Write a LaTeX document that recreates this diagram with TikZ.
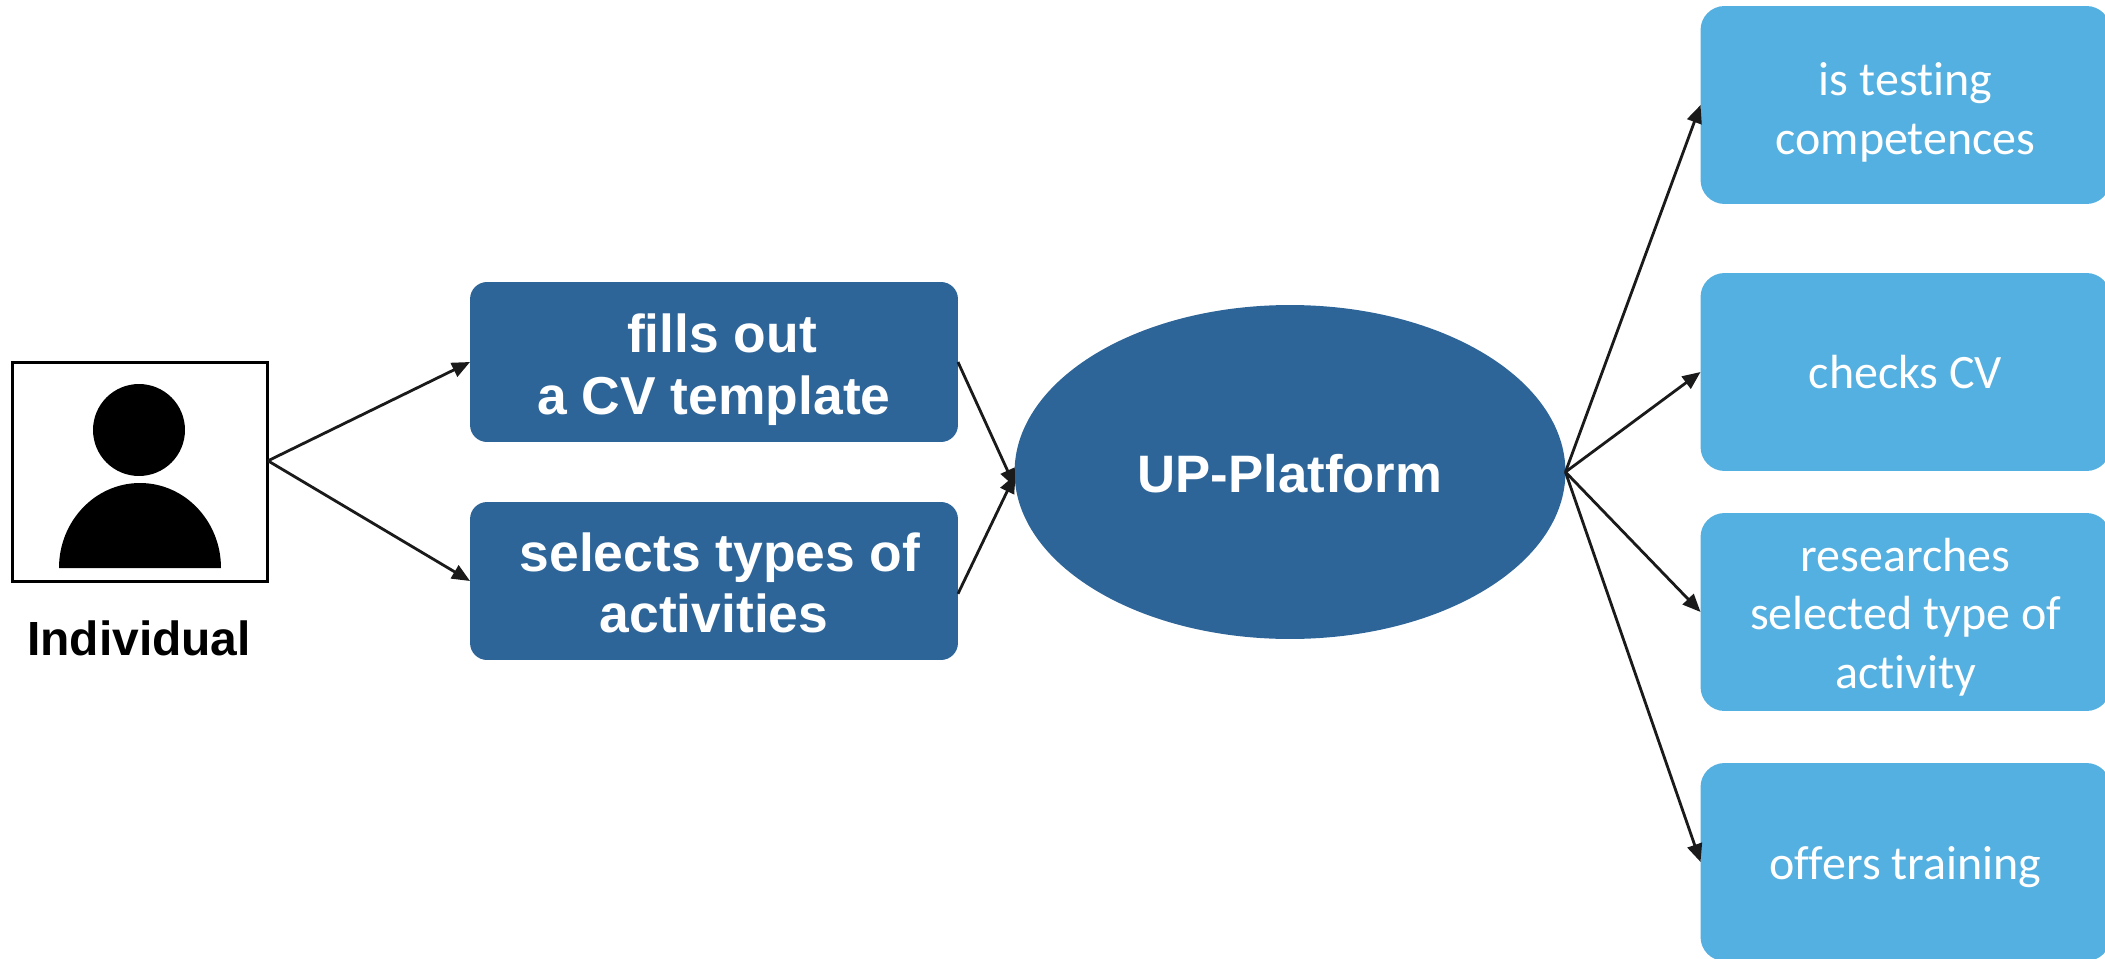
\documentclass[tikz,border=0pt]{standalone}
\usepackage{fontspec}
\setmainfont{Liberation Sans}
\newfontfamily\carlitofont[Ligatures={NoCommon}]{Carlito}
\usetikzlibrary{shapes.geometric,arrows.meta}
\definecolor{darkblue}{HTML}{2E6599}
\definecolor{lightblue}{HTML}{54B0E0}
\definecolor{arrowgray}{HTML}{1A1A1A}
\tikzset{
    stepbox/.style={rectangle, rounded corners=0.34cm, fill=darkblue, text=white, align=center,
        minimum width=9.76cm, inner sep=0pt, outer sep=0pt,
        font=\fontsize{30.4}{35}\selectfont\bfseries},
    resultbox/.style={rectangle, rounded corners=0.48cm, fill=lightblue, text=white, align=center,
        minimum width=8.2cm, minimum height=3.96cm, inner sep=0pt, outer sep=0pt,
        font=\fontsize{27.3}{33.5}\selectfont\carlitofont},
    link/.style={-{Triangle[length=0.36cm, width=0.3cm]}, line width=1.6pt, draw=arrowgray}
}
\begin{document}
\begin{tikzpicture}[x=0.02cm, y=0.02cm]
    \useasboundingbox (0, 0) rectangle (2105, 958);

    % individual
    \node[draw, line width=1.7pt, minimum width=5.12cm, minimum height=4.4cm, inner sep=0pt, outer sep=0pt] (person) at (140, 486) {};
    \node[circle, fill=black, minimum size=1.84cm, inner sep=0pt] (head) at (139, 528) {};
    \fill (59, 390) arc[start angle=180, end angle=0, x radius=81, y radius=85] -- cycle;
    \node[font=\fontsize{27.3}{32}\selectfont\bfseries] (individual) at (139, 320) {Individual};

    % steps
    \node[stepbox, minimum height=3.2cm] (cv) at (714, 596) {\rule{0pt}{1.09cm}\hspace*{0.32cm}fills out\\a CV template};
    \node[stepbox, minimum height=3.16cm] (types) at (714, 377) {\rule{0pt}{0.85cm}\hspace*{0.24cm}selects types of\\activities};

    % platform
    \node[ellipse, fill=darkblue, text=white, minimum width=11.02cm, minimum height=6.68cm, inner sep=0pt, outer sep=0pt,
        font=\fontsize{30}{36}\selectfont\bfseries] (platform) at (1290, 486) {\rule{0pt}{0.84cm}UP-Platform};
    \coordinate (inCv) at (1015, 471);
    \coordinate (inTypes) at (1015, 483);

    % results
    \node[resultbox] (testing) at (1905.5, 853) {\rule{0pt}{0.95cm}is testing\\competences};
    \node[resultbox] (checks) at (1905.5, 586) {checks CV};
    \node[resultbox] (research) at (1905.5, 346) {\rule{0pt}{0.87cm}researches\\selected type of\\activity};
    \node[resultbox] (training) at (1905.5, 96) {\rule{0pt}{0.88cm}offers training};

    \draw[link] (person.5) -- (cv.west);
    \draw[link] (person.5) -- (types.west);
    \draw[link] (cv.east) -- (inCv);
    \draw[link] (types.-3) -- (inTypes);
    \draw[link] (platform.east) -- (testing.west);
    \draw[link] (platform.east) -- (checks.west);
    \draw[link] (platform.east) -- (research.west);
    \draw[link] (platform.east) -- (training.west);
\end{tikzpicture}
\end{document}
